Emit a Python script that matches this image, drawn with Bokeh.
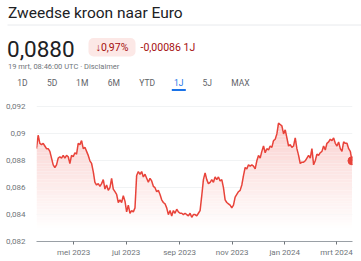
import numpy as np
import pandas as pd
from bokeh.plotting import figure
from bokeh.layouts import column
from bokeh.models import Range1d, FixedTicker
from bokeh.core.properties import value
from bokeh.embed import file_html
from bokeh.resources import INLINE

# ---- data ----
title = "Zweedse kroon naar Euro"
price = "0,0880"
change_pct = "\u21930,97%"
change_abs = "-0,00086 1J"
stamp = "19 mrt, 08:46:00 UTC \u00b7 Disclaimer"
tabs = ["1D", "5D", "1M", "6M", "YTD", "1J", "5J", "MAX"]
active_tab = "1J"

start_date = "2023-03-19"
end_date = "2024-03-19"
rates = [
    0.0889, 0.0899, 0.0893, 0.0892, 0.0893, 0.0891, 0.0889, 0.0889, 0.0887, 0.0882,
    0.0877, 0.0875, 0.0877, 0.0882,
    0.0883, 0.0882, 0.0884, 0.0882, 0.0884, 0.0883, 0.0878, 0.0884, 0.0883, 0.0886,
    0.0885, 0.0893, 0.0892, 0.0895, 0.0889, 0.0890, 0.0887, 0.0884, 0.0880, 0.0878,
    0.0872, 0.0864, 0.0862, 0.0863, 0.0861, 0.0863, 0.0866, 0.0859, 0.0862, 0.0858,
    0.0860, 0.0867, 0.0859, 0.0857, 0.0855, 0.0849, 0.0851, 0.0849, 0.0854, 0.0850,
    0.0842, 0.0847, 0.0841, 0.0843, 0.0842, 0.0845, 0.0869, 0.0872, 0.0870, 0.0872,
    0.0868, 0.0870, 0.0867, 0.0864, 0.0867, 0.0865, 0.0861, 0.0860, 0.0857, 0.0858,
    0.0855, 0.0851, 0.0849, 0.0848, 0.0845, 0.0840, 0.0843, 0.0839, 0.0843, 0.0841,
    0.0844, 0.0842, 0.0841, 0.0841, 0.0840, 0.0841, 0.0840, 0.0839, 0.0841, 0.0838,
    0.0840, 0.0840, 0.0839, 0.0841, 0.0843, 0.0854, 0.0866, 0.0871, 0.0866, 0.0863,
    0.0864, 0.0866, 0.0864, 0.0868, 0.0866, 0.0868, 0.0865, 0.0866, 0.0860, 0.0851,
    0.0849, 0.0848, 0.0847, 0.0845, 0.0847, 0.0853, 0.0855, 0.0857, 0.0858, 0.0862,
    0.0869, 0.0875, 0.0874, 0.0877, 0.0876, 0.0877, 0.0876, 0.0874, 0.0880, 0.0884,
    0.0882, 0.0887, 0.0891, 0.0886, 0.0889, 0.0888, 0.0891, 0.0890, 0.0895, 0.0896,
    0.0900, 0.0908, 0.0907, 0.0906, 0.0900, 0.0903, 0.0897, 0.0891, 0.0892, 0.0890,
    0.0891, 0.0897, 0.0889, 0.0884, 0.0878, 0.0879, 0.0879, 0.0880, 0.0882, 0.0884,
    0.0882, 0.0889, 0.0877, 0.0880, 0.0885, 0.0884, 0.0886, 0.0887, 0.0891, 0.0888,
    0.0893, 0.0894, 0.0896, 0.0895, 0.0897, 0.0893, 0.0891, 0.0894, 0.0889, 0.0887,
    0.0894, 0.0893, 0.0893, 0.0889, 0.0887, 0.0880,
]
y_ticks = [0.082, 0.084, 0.086, 0.088, 0.090, 0.092]
y_labels = ["0,082", "0,084", "0,086", "0,088", "0,09", "0,092"]
x_tick_dates = ["2023-05-01", "2023-07-01", "2023-09-01", "2023-11-01", "2024-01-01", "2024-03-01"]
x_labels = ["mei 2023", "jul 2023", "sep 2023", "nov 2023", "jan 2024", "mrt 2024"]

FONT = "Roboto"
RED = "#e8433a"
DARK_RED = "#a50e0e"
GREY = "#70757a"

# ---- header ----
W = 361
HH = 96
hdr = figure(width=W, height=HH, output_backend="svg", toolbar_location=None,
             x_range=Range1d(0, W), y_range=Range1d(HH, 0), min_border=0,
             x_axis_location=None, y_axis_location=None)
hdr.frame_align = False
hdr.grid.visible = False
hdr.outline_line_color = None

hdr.text(x=[7.5], y=[12], text=[title], text_font=value(FONT), text_font_size="15.5px",
         text_color="#202124", text_baseline="middle", text_align="left")
hdr.segment(x0=[7], y0=[24.5], x1=[361], y1=[24.5], line_color="#e8eaed", line_width=1)
hdr.text(x=[6.5], y=[48], text=[price], text_font=value(FONT), text_font_size="22.5px",
         text_color="#202124", text_baseline="middle", text_align="left")
hdr.quad(left=[88], right=[135], top=[37.5], bottom=[56], fill_color="#fce8e6",
         line_color=None, border_radius=5)
hdr.text(x=[111.5], y=[47], text=[change_pct], text_font=value(FONT), text_font_size="10.5px",
         text_color=DARK_RED, text_baseline="middle", text_align="center")
hdr.text(x=[140], y=[47], text=[change_abs], text_font=value(FONT), text_font_size="10.5px",
         text_color=DARK_RED, text_baseline="middle", text_align="left")
hdr.text(x=[7.5], y=[66], text=[stamp], text_font=value(FONT), text_font_size="7.5px",
         text_color=GREY, text_baseline="middle", text_align="left")
tab_x = [22, 51.7, 81.7, 113.3, 146.7, 178.3, 206.7, 240]
tab_colors = ["#1a73e8" if t == active_tab else "#5f6368" for t in tabs]
hdr.text(x=tab_x, y=[82.5] * len(tabs), text=tabs, text_font=value(FONT),
         text_font_size="8.5px", text_color=tab_colors, text_baseline="middle",
         text_align="center")
ai = tabs.index(active_tab)
hdr.segment(x0=[tab_x[ai] - 7], y0=[89.5], x1=[tab_x[ai] + 7], y1=[89.5],
            line_color="#1a73e8", line_width=2)

# ---- chart ----
dates = pd.date_range(start_date, end_date, periods=len(rates))
vals = np.array(rates)
x0 = pd.Timestamp(start_date)
x1 = pd.Timestamp(end_date) + pd.Timedelta(days=0.6)

ch = figure(width=W, height=261 - HH, output_backend="svg", toolbar_location=None,
            x_axis_type="datetime", x_range=Range1d(x0, x1),
            y_range=Range1d(0.082, 0.09263),
            min_border_left=36, min_border_right=9, min_border_top=2, min_border_bottom=20)
ch.frame_align = False
ch.outline_line_color = None

# vertical gradient fill under the line: opaque bands, white at bottom -> pink at top
g_lo, g_hi, step = 0.0828, 0.0910, 0.0002
levels = np.arange(g_lo, g_hi, step)
top_rgb = np.array([250, 208, 206])
for t in levels:
    f = min(1.0, max(0.0, (t - g_lo) / (0.0906 - g_lo)))
    rgb = np.array([255, 255, 255]) * (1 - f) + top_rgb * f
    col = "#%02x%02x%02x" % tuple(int(round(c)) for c in rgb)
    ch.varea(x=dates, y1=np.full(len(vals), t), y2=np.clip(vals, t, t + step), fill_color=col)

ch.line(x=dates, y=vals, line_color=RED, line_width=1.5)
ch.scatter(x=[dates[-1]], y=[vals[-1]], size=8, fill_color=RED, line_color=RED)

ch.yaxis.ticker = FixedTicker(ticks=y_ticks)
ch.yaxis.major_label_overrides = {t: l for t, l in zip(y_ticks, y_labels)}
ch.yaxis.axis_line_color = None
ch.yaxis.major_tick_line_color = None
ch.yaxis.minor_tick_line_color = None
ch.yaxis.major_label_text_color = GREY
ch.yaxis.major_label_text_font = FONT
ch.yaxis.major_label_text_font_size = "8px"
ch.yaxis.major_label_standoff = 5

xt = [pd.Timestamp(d).value / 1e6 for d in x_tick_dates]
ch.xaxis.ticker = FixedTicker(ticks=xt)
ch.xaxis.major_label_overrides = {t: l for t, l in zip(xt, x_labels)}
ch.xaxis.axis_line_color = "#9aa0a6"
ch.xaxis.major_tick_line_color = "#70757a"
ch.xaxis.major_tick_in = 0
ch.xaxis.major_tick_out = 3
ch.xaxis.minor_tick_line_color = None
ch.xaxis.major_label_text_color = GREY
ch.xaxis.major_label_text_font = FONT
ch.xaxis.major_label_text_font_size = "8px"
ch.xaxis.major_label_standoff = 3

ch.xgrid.grid_line_color = None
ch.ygrid.ticker = FixedTicker(ticks=y_ticks)
ch.ygrid.grid_line_color = "#f1f3f4"

lay = column(hdr, ch, spacing=0)
open("out.html", "w").write(file_html(lay, INLINE))
